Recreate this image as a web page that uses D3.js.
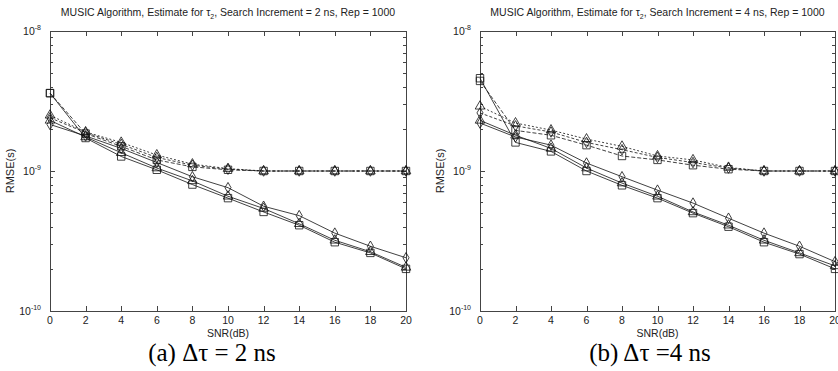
<!DOCTYPE html>
<html><head><meta charset="utf-8">
<script src="https://cdn.jsdelivr.net/npm/d3@7"></script>
<style>body{margin:0;background:#fff}svg{display:block}</style>
</head><body>
<svg id="c" width="838" height="371"></svg>
<script>
const snr = [0,2,4,6,8,10,12,14,16,18,20];
const xTicks = [0,2,4,6,8,10,12,14,16,18,20];
const yMajor = [1e-10,1e-9,1e-8];
const yMajorLabels = ["-10","-9","-8"];
const seriesNames = ["solid-square","solid-triangle","solid-diamond","dash-square","dash-triangle","dash-diamond"];
const seriesMarker = ["square","triangle","diamond","square","triangle","diamond"];
const seriesDash = [null,null,null,"4,2","2,2","3,2"];
// panel (a) RMSE values in units of 1e-9 s
const a_solidSquare   = [3.6,1.72,1.27,1.02,0.80,0.64,0.51,0.41,0.31,0.26,0.20];
const a_solidTriangle = [2.3,1.75,1.35,1.05,0.85,0.66,0.54,0.42,0.32,0.265,0.205];
const a_solidDiamond  = [2.15,1.78,1.45,1.15,0.91,0.76,0.56,0.48,0.36,0.29,0.24];
const a_dashSquare    = [3.6,1.85,1.5,1.2,1.07,1.02,1.0,1.0,1.0,1.0,1.0];
const a_dashTriangle  = [2.5,1.9,1.6,1.3,1.12,1.04,1.0,1.0,1.0,1.0,1.0];
const a_dashDiamond   = [2.4,1.88,1.55,1.25,1.1,1.03,1.0,1.0,1.0,1.0,1.0];
// panel (b)
const b_solidSquare   = [4.6,1.6,1.38,1.0,0.79,0.64,0.50,0.40,0.31,0.255,0.20];
const b_solidTriangle = [2.3,1.8,1.45,1.05,0.82,0.66,0.51,0.41,0.32,0.26,0.21];
const b_solidDiamond  = [2.2,1.75,1.53,1.14,0.91,0.73,0.59,0.46,0.36,0.29,0.225];
const b_dashSquare    = [4.4,1.95,1.8,1.53,1.28,1.2,1.1,1.03,1.0,1.0,1.0];
const b_dashTriangle  = [2.9,2.2,1.96,1.69,1.5,1.28,1.2,1.06,1.0,1.0,1.0];
const b_dashDiamond   = [2.6,2.1,1.9,1.6,1.42,1.25,1.15,1.05,1.0,1.0,1.0];

const titles = ["MUSIC Algorithm, Estimate for τ|2|, Search Increment = 2 ns, Rep = 1000",
                "MUSIC Algorithm, Estimate for τ|2|, Search Increment = 4 ns, Rep = 1000"];
const captions = ["(a) Δτ = 2 ns","(b)\u2009Δτ =4 ns"];

const panels = [
  {x0:50, x1:406, cx:212, data:[a_solidSquare,a_solidTriangle,a_solidDiamond,a_dashSquare,a_dashTriangle,a_dashDiamond]},
  {x0:480, x1:835, cx:650, data:[b_solidSquare,b_solidTriangle,b_solidDiamond,b_dashSquare,b_dashTriangle,b_dashDiamond]}
];
const plotTop = 31, plotBottom = 311;
const svg = d3.select("#c");
const axisCol = "#444", textCol = "#222";
const font = "'Liberation Sans', Arial, sans-serif";

panels.forEach((p,pi)=>{
  const x = d3.scaleLinear().domain([0,20]).range([p.x0,p.x1]);
  const y = d3.scaleLog().domain([1e-10,1e-8]).range([plotBottom,plotTop]);
  const g = svg.append("g");
  const minors = [];
  [1e-10,1e-9].forEach(d=>{for(let k=2;k<=9;k++) minors.push(k*d);});
  const tg = g.append("g").attr("stroke",axisCol).attr("stroke-width",1);
  minors.forEach(v=>{
    const yy = Math.round(y(v))+0.5;
    tg.append("line").attr("x1",p.x0).attr("x2",p.x0+3).attr("y1",yy).attr("y2",yy);
    tg.append("line").attr("x1",p.x1).attr("x2",p.x1-3).attr("y1",yy).attr("y2",yy);
  });
  yMajor.forEach(v=>{
    const yy = Math.round(y(v))+0.5;
    tg.append("line").attr("x1",p.x0).attr("x2",p.x0+5).attr("y1",yy).attr("y2",yy);
    tg.append("line").attr("x1",p.x1).attr("x2",p.x1-5).attr("y1",yy).attr("y2",yy);
  });
  xTicks.forEach(v=>{
    const xx = Math.round(x(v))+0.5;
    tg.append("line").attr("x1",xx).attr("x2",xx).attr("y1",plotBottom).attr("y2",plotBottom-5);
    tg.append("line").attr("x1",xx).attr("x2",xx).attr("y1",plotTop).attr("y2",plotTop+5);
  });
  g.append("rect").attr("x",p.x0+0.5).attr("y",plotTop+0.5).attr("width",p.x1-p.x0).attr("height",plotBottom-plotTop)
    .attr("fill","none").attr("stroke",axisCol).attr("stroke-width",1);
  xTicks.forEach(v=>{
    g.append("text").attr("x",x(v)).attr("y",plotBottom+13).attr("text-anchor","middle")
      .attr("font-family",font).attr("font-size",10.5).attr("fill",textCol).text(v);
  });
  yMajor.forEach((v,i)=>{
    const t = g.append("text").attr("x",p.x0-9).attr("y",y(v)+4).attr("text-anchor","end")
      .attr("font-family",font).attr("font-size",10.5).attr("fill",textCol);
    t.append("tspan").text("10");
    t.append("tspan").attr("dy",-5).attr("font-size",7).text(yMajorLabels[i]);
  });
  g.append("text").attr("x",(p.x0+p.x1)/2).attr("y",plotBottom+26).attr("text-anchor","middle")
    .attr("font-family",font).attr("font-size",10.5).attr("fill",textCol).text("SNR(dB)");
  g.append("text").attr("transform",`translate(${p.x0-36},${(plotTop+plotBottom)/2}) rotate(-90)`).attr("text-anchor","middle")
    .attr("font-family",font).attr("font-size",11).attr("fill",textCol).text("RMSE(s)");
  const parts = titles[pi].split("|");
  const tt = g.append("text").attr("x",(p.x0+p.x1)/2).attr("y",16).attr("text-anchor","middle")
    .attr("font-family",font).attr("font-size",10.5).attr("fill",textCol);
  tt.append("tspan").text(parts[0]);
  tt.append("tspan").attr("dy",3).attr("font-size",7).text(parts[1]);
  tt.append("tspan").attr("dy",-3).text(parts[2]);
  svg.append("text").attr("x",p.cx).attr("y",361).attr("text-anchor","middle")
    .attr("font-family","'Liberation Serif','Times New Roman',serif").attr("font-size",25).attr("fill","#000").text(captions[pi]);
  const line = d3.line().x((d,i)=>x(snr[i])).y(d=>y(d*1e-9));
  p.data.forEach((vals,si)=>{
    g.append("path").attr("d",line(vals)).attr("fill","none").attr("stroke","#111").attr("stroke-width",0.8)
      .attr("stroke-dasharray",seriesDash[si]);
    const m = seriesMarker[si];
    const sym = m==="square"? d3.symbolSquare : m==="triangle"? d3.symbolTriangle : d3.symbolDiamond;
    const size = m==="square"? 55 : m==="triangle"? 40 : 32;
    vals.forEach((v,i)=>{
      g.append("path").attr("d",d3.symbol().type(sym).size(size)())
        .attr("transform",`translate(${x(snr[i])},${y(v*1e-9)})`)
        .attr("fill","none").attr("stroke","#111").attr("stroke-width",0.8);
    });
  });
});
</script>
</body></html>
